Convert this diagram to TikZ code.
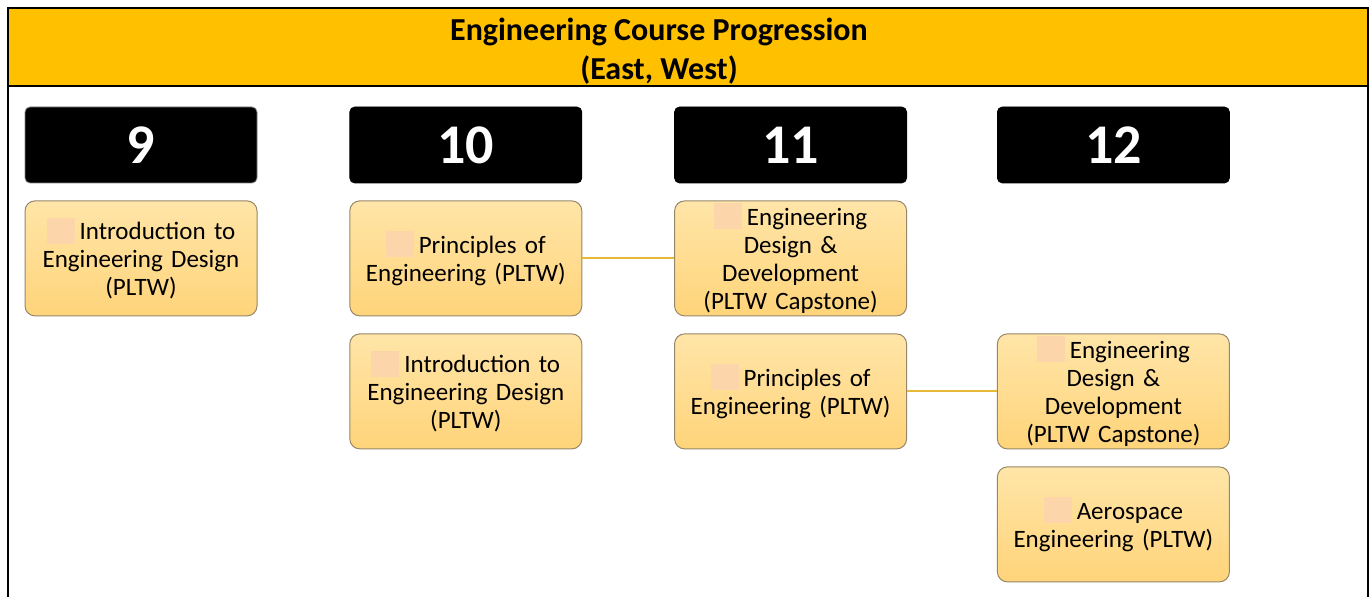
\documentclass[tikz,border=0pt]{standalone}
\usepackage{fontspec}
\setmainfont{Carlito}
\usetikzlibrary{positioning}

\definecolor{hdr}{RGB}{255,192,0}
\definecolor{crstop}{RGB}{255,229,168}
\definecolor{crsbot}{RGB}{255,212,122}
\definecolor{crsline}{RGB}{150,135,105}
\definecolor{sq}{RGB}{252,213,170}
\definecolor{linkcol}{RGB}{230,185,55}
\newcommand{\sqmark}{\textcolor{sq}{\rule[-2pt]{14pt}{13pt}}\hspace{2.5pt}}

\begin{document}
\begin{tikzpicture}[x=0.5pt, y=-0.5pt, node distance={46pt},
    grade/.style = {rectangle, rounded corners=2.5pt, fill=black, draw=black, text=white, font=\fontsize{28}{30}\selectfont\bfseries, minimum width=116pt, minimum height=38pt, inner sep=0pt},
    course/.style = {rectangle, rounded corners=5pt, draw=crsline, line width=0.5pt, top color=crstop, bottom color=crsbot, minimum width=116pt, minimum height=57.5pt, text width=112pt, align=center, inner sep=0pt, font=\fontsize{12.5}{14}\selectfont},
    link/.style = {draw=linkcol, line width=1pt}]
    \useasboundingbox (0,0) rectangle (1372,597);

    \fill[hdr] (8,8) rectangle (1368,86);
    \draw[line width=1.2pt] (8,597) -- (8,8) -- (1368,8) -- (1368,597);
    \draw[line width=1.2pt] (8,86) -- (1368,86);
    \node[font=\fontsize{16}{19.5}\selectfont\bfseries, align=center] (title) at (659,51) {Engineering Course Progression\\(East, West)};

    \node[grade, draw=gray] (g9) at (141,145) {9};
    \node[grade] (g10) [right=46pt of g9] {10};
    \node[grade] (g11) [right=46pt of g10] {11};
    \node[grade] (g12) [right=45pt of g11] {12};

    \node[course] (c9a) [below=8.5pt of g9] {\sqmark Introduction to\\Engineering Design\\(PLTW)};

    \node[course] (c10a) [below=8.5pt of g10] {\sqmark Principles of\\Engineering (PLTW)};
    \node[course] (c10b) [below=8.5pt of c10a] {\sqmark Introduction to\\Engineering Design\\(PLTW)};

    \node[course] (c11a) [below=8.5pt of g11] {\sqmark Engineering\\Design \&\\Development\\(PLTW Capstone)};
    \node[course] (c11b) [below=8.5pt of c11a] {\sqmark Principles of\\Engineering (PLTW)};

    \node[course] (c12b) at (c11b -| g12) {\sqmark Engineering\\Design \&\\Development\\(PLTW Capstone)};
    \node[course] (c12c) [below=8.5pt of c12b] {\sqmark Aerospace\\Engineering (PLTW)};

    \path[link] (c10a) -- (c11a);
    \path[link] (c11b) -- (c12b);

\end{tikzpicture}
\end{document}
